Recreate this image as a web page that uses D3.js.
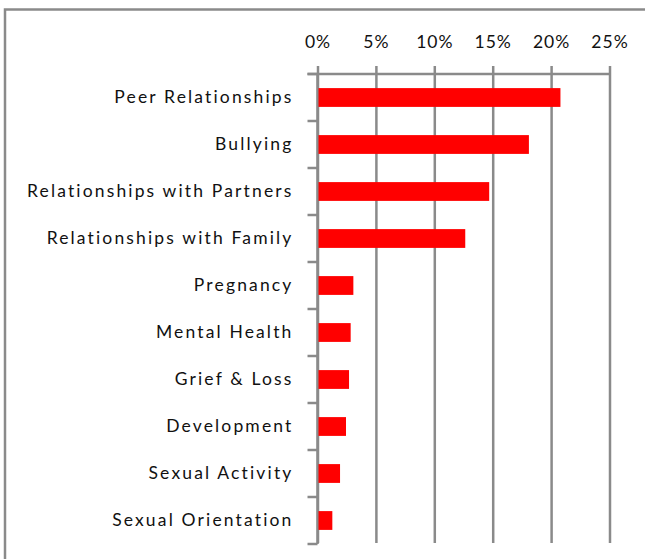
<!DOCTYPE html>
<html>
<head>
<meta charset="utf-8">
<script src="https://cdn.jsdelivr.net/npm/d3@7"></script>
<style>
  body { margin: 0; background: #fff; }
  svg { display: block; }
  text { font-family: Lato, "Open Sans", sans-serif; fill: #111; }
</style>
</head>
<body>
<script>
const categories = ["Peer Relationships", "Bullying", "Relationships with Partners",
  "Relationships with Family", "Pregnancy", "Mental Health", "Grief & Loss",
  "Development", "Sexual Activity", "Sexual Orientation"];
const shares = [0.208, 0.181, 0.147, 0.1265, 0.0307, 0.0284, 0.027, 0.0244, 0.0193, 0.0127];
const tickValues = [0, 0.05, 0.10, 0.15, 0.20, 0.25];

const W = 645, H = 559;
const margin = {top: 74, left: 317.5, right: 35.5, bottom: 15};
const plotW = W - margin.left - margin.right;
const plotH = 470;

const svg = d3.select("body").append("svg")
  .attr("width", W)
  .attr("height", H);

// outer frame of the chart area
svg.append("rect")
  .attr("x", 5).attr("y", 9.5)
  .attr("width", 700).attr("height", 700)
  .attr("fill", "none")
  .attr("stroke", "#8a8a8a")
  .attr("stroke-width", 2.5);

const g = svg.append("g")
  .attr("transform", "translate(" + margin.left + "," + margin.top + ")");

const x = d3.scaleLinear().domain([0, 0.25]).range([0, plotW]);
const y = d3.scaleBand().domain(categories).range([0, plotH])
  .paddingInner(0.6).paddingOuter(0.3);

// top axis, tick lines stretched down as gridlines
const xAxis = d3.axisTop(x)
  .tickValues(tickValues)
  .tickFormat(d3.format(".0%"))
  .tickSizeInner(8)
  .tickSizeOuter(0)
  .tickPadding(18);

const xg = g.append("g").attr("class", "xaxis").call(xAxis);
xg.select(".domain").remove();
xg.selectAll(".tick line")
  .attr("y1", plotH - 1)
  .attr("stroke", "#8a8a8a")
  .attr("stroke-width", 2.5);
xg.selectAll(".tick text")
  .style("font-size", "17.5px")
  .attr("letter-spacing", "1px")
  .attr("fill", "#111");

// top axis line
g.append("line")
  .attr("x1", -10).attr("x2", plotW)
  .attr("y1", 0).attr("y2", 0)
  .attr("stroke", "#8a8a8a").attr("stroke-width", 2.5);

// left axis line + category boundary ticks
g.append("line")
  .attr("x1", 0).attr("x2", 0)
  .attr("y1", 0).attr("y2", plotH)
  .attr("stroke", "#8a8a8a").attr("stroke-width", 2.5);

const bounds = d3.range(categories.length + 1).map(i => i * y.step());
g.selectAll(".cattick")
  .data(bounds)
  .enter()
  .append("line")
  .attr("class", "cattick")
  .attr("x1", -10).attr("x2", 0)
  .attr("y1", d => d).attr("y2", d => d)
  .attr("stroke", "#8a8a8a").attr("stroke-width", 2.5);

// category labels
g.selectAll(".catlabel")
  .data(categories)
  .enter()
  .append("text")
  .attr("class", "catlabel")
  .attr("x", -24)
  .attr("y", d => y(d) + y.bandwidth() / 2 - 0.5)
  .attr("dy", "0.35em")
  .attr("text-anchor", "end")
  .attr("letter-spacing", "2.15px")
  .style("font-size", "17.5px")
  .text(d => d);

// bars
g.selectAll(".bar")
  .data(categories)
  .enter()
  .append("rect")
  .attr("class", "bar")
  .attr("x", 1)
  .attr("y", d => y(d))
  .attr("width", (d, i) => x(shares[i]) - 1)
  .attr("height", y.bandwidth())
  .attr("fill", "#ff0000");
</script>
</body>
</html>
